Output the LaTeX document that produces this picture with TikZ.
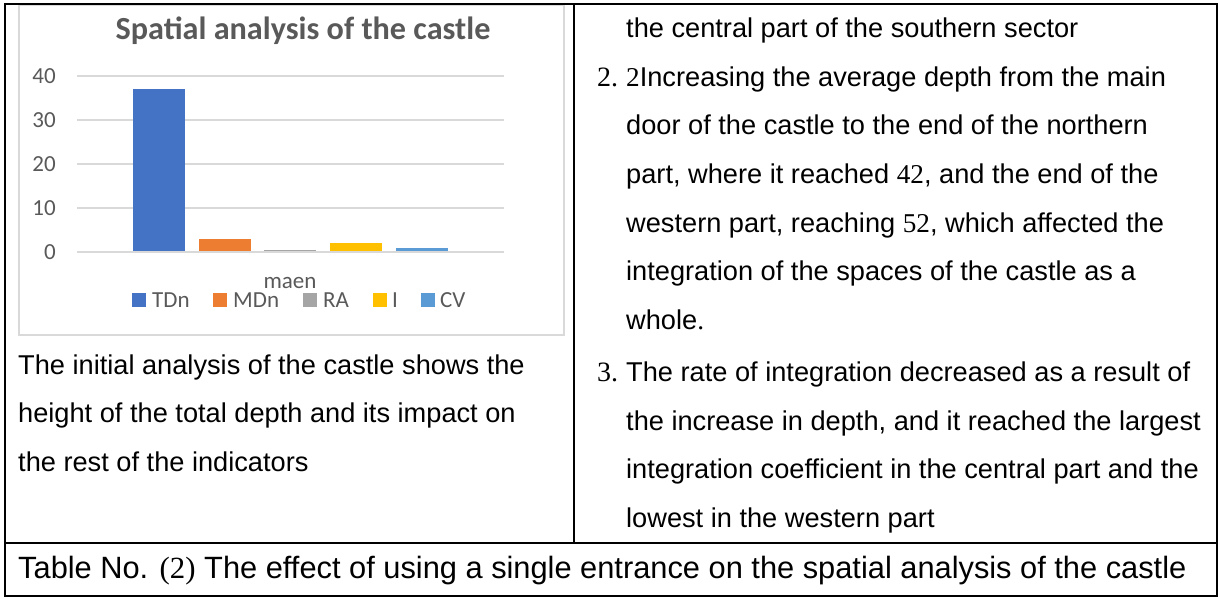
\documentclass[tikz,border=0pt]{standalone}
\usepackage{fontspec}
\setmainfont{Liberation Sans}
\newfontfamily\tnr{Liberation Serif}
\newfontfamily\calfont{Carlito}
\definecolor{gridc}{HTML}{D9D9D9}
\definecolor{txtg}{HTML}{595959}
\definecolor{cTD}{HTML}{4472C4}
\definecolor{cMD}{HTML}{ED7D31}
\definecolor{cRA}{HTML}{A5A5A5}
\definecolor{cI}{HTML}{FFC000}
\definecolor{cCV}{HTML}{5B9BD5}
\begin{document}
\begin{tikzpicture}[x=1pt,y=-1pt,
  body/.style={anchor=base west,inner sep=0pt,font=\fontsize{27.2}{27}\selectfont},
  capt/.style={anchor=base west,inner sep=0pt,font=\fontsize{30.8}{30}\selectfont},
  num/.style={anchor=base west,inner sep=0pt,font=\fontsize{28}{28}\tnr},
  tbl/.style={line width=2pt,draw=black},
  grid/.style={draw=gridc,line width=1.5pt},
  axlab/.style={anchor=east,inner sep=0pt,text=txtg,font=\fontsize{23}{23}\calfont},
  leglab/.style={anchor=base west,inner sep=0pt,text=txtg,font=\fontsize{23}{23}\calfont},
  title/.style={anchor=base,inner sep=0pt,text=txtg,font=\fontsize{32.2}{32}\calfont\bfseries}]
\useasboundingbox (0,0) rectangle (1218,599);
% chart frame
\draw[draw=gridc,line width=2pt] (18.5,5) rectangle (564,335);
% table
\draw[tbl] (5,4) rectangle (1216.5,596);
\draw[tbl] (5,543) -- (1216.5,543);
\draw[tbl] (574,4) -- (574,543);
% chart
\node[title] (ttl) at (303,40) {Spatial analysis of the castle};
\foreach \v/\yy in {0/252,10/208,20/164,30/120,40/76}{
  \draw[grid] (77,\yy) -- (504,\yy);
  \node[axlab] (ax\v) at (56,\yy) {\v};
}
\fill[cTD] (133,251) rectangle (185,89);
\fill[cMD] (199,251) rectangle (251,239);
\fill[cRA] (264,251) rectangle (316,249.5);
\fill[cI]  (330,251) rectangle (382,243);
\fill[cCV] (396,251) rectangle (448,247.5);
\node[leglab,anchor=base] (maen) at (290,288.5) {maen};
\fill[cTD] (132,293) rectangle (146,307);
\node[leglab] (lTD) at (152,307) {TDn};
\fill[cMD] (213,293) rectangle (227,307);
\node[leglab] (lMD) at (233,307) {MDn};
\fill[cRA] (303,293) rectangle (317,307);
\node[leglab] (lRA) at (323,307) {RA};
\fill[cI] (373,293) rectangle (387,307);
\node[leglab] (lI) at (392,307) {I};
\fill[cCV] (421,293) rectangle (435,307);
\node[leglab] (lCV) at (440,307) {CV};
% left column text
\node[body] (l1) at (18,374) {The initial analysis of the castle shows the};
\node[body] (l2) at (18,422.5) {height of the total depth and its impact on};
\node[body] (l3) at (18,471) {the rest of the indicators};
% right column text
\node[body] (r1) at (626,37.5) {the central part of the southern sector};
\node[num] (n2) at (597,86.2) {2.};
\node[body] (r2) at (626,86.2) {{\tnr 2}Increasing the average depth from the main};
\node[body] (r3) at (626,134.8) {door of the castle to the end of the northern};
\node[body] (r4) at (626,183.5) {part, where it reached {\tnr 42}, and the end of the};
\node[body] (r5) at (626,232.2) {western part, reaching {\tnr 52}, which affected the};
\node[body] (r6) at (626,280.8) {integration of the spaces of the castle as a};
\node[body] (r7) at (626,329.5) {whole{\tnr .}};
\node[num] (n3) at (597,381) {3.};
\node[body] (r8) at (626,381) {The rate of integration decreased as a result of};
\node[body] (r9) at (626,430) {the increase in depth, and it reached the largest};
\node[body] (r10) at (626,478.5) {integration coefficient in the central part and the};
\node[body] (r11) at (626,527) {lowest in the western part};
% caption
\node[capt] (cap) at (18,578) {Table No. {\tnr (2)} The effect of using a single entrance on the spatial analysis of the castle};
\end{tikzpicture}
\end{document}
